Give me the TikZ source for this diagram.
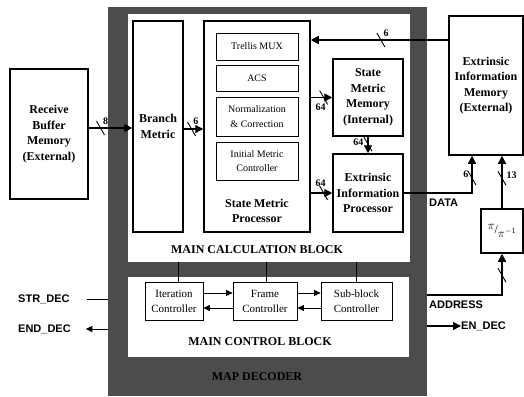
\documentclass[tikz,border=0pt]{standalone}
\usepackage{fontspec}
\setmainfont{Liberation Serif}
\setsansfont{Liberation Sans}
\usetikzlibrary{arrows.meta,positioning}
\newcommand{\busslash}[1]{\draw[line width=0.9pt] ([shift={(-4pt,7pt)}]#1) -- ([shift={(4pt,-7pt)}]#1);}

\begin{document}
\begin{tikzpicture}[x=1pt,y=-1pt,
  blk/.style={draw,line width=1.5pt,fill=white,align=center,inner sep=0pt,font=\bfseries\fontsize{12}{15.5}\selectfont},
  sub/.style={draw,line width=0.8pt,fill=white,align=center,inner sep=0pt,font=\fontsize{10}{14.5}\selectfont},
  ctl/.style={sub,font=\fontsize{11}{15}\selectfont},
  ttl/.style={font=\bfseries\fontsize{12}{14}\selectfont,inner sep=0pt},
  sig/.style={font=\sffamily\bfseries\fontsize{11}{13}\selectfont,inner sep=0pt},
  wlab/.style={font=\bfseries\fontsize{10}{10}\selectfont,inner sep=0.5pt},
  bus/.style={line width=1.4pt,-{Triangle[length=8pt,width=8pt]}},
  cbus/.style={line width=0.9pt,-{Triangle[length=6.5pt,width=6pt]}},
  wire/.style={line width=0.9pt}]
  \useasboundingbox (0,0) rectangle (524,396);
  % decoder frame and its two blocks
  \node (dec) [fill=black!70,minimum width=319pt,minimum height=389pt,inner sep=0pt] at (267.5,201.5) {};
  \node (calc) [fill=white,minimum width=282pt,minimum height=248pt,inner sep=0pt] at (269,138) {};
  \node (ctrl) [fill=white,minimum width=281pt,minimum height=80pt,inner sep=0pt] at (268.5,317) {};
  \node (dectxt) [ttl] at (257,377) {MAP DECODER};
  \node (calctxt) [ttl] at (257,250) {MAIN CALCULATION BLOCK};
  \node (ctrltxt) [ttl] at (260,342) {MAIN CONTROL BLOCK};
  % calculation blocks
  \node (rbm) [blk,minimum width=78pt,minimum height=130pt] at (49,134) {Receive\\Buffer\\Memory\\(External)};
  \node (bm) [blk,minimum width=50pt,minimum height=211pt] at (158,126.5) {Branch\\Metric};
  \node (smp) [blk,minimum width=106pt,minimum height=211pt] at (257,126.5) {};
  \node (smptxt) [ttl,align=center,font=\bfseries\fontsize{12}{15}\selectfont] at (257,210.5) {State Metric\\Processor};
  \node (tmux) [sub,minimum width=82pt,minimum height=27pt] at (257,46.5) {Trellis MUX};
  \node (acs) [sub,minimum width=82pt,minimum height=26pt] at (257,78) {ACS};
  \node (norm) [sub,minimum width=82pt,minimum height=39pt] at (257,116.5) {Normalization\\\& Correction};
  \node (imc) [sub,minimum width=82pt,minimum height=38pt] at (257,161) {Initial Metric\\Controller};
  \node (smm) [blk,minimum width=70pt,minimum height=77pt] at (368,97.5) {State\\Metric\\Memory\\(Internal)};
  \node (eip) [blk,minimum width=70pt,minimum height=78pt] at (368,193) {Extrinsic\\Information\\Processor};
  \node (eim) [blk,minimum width=74pt,minimum height=139pt] at (486,85.5) {Extrinsic\\Information\\Memory\\(External)};
  \node (pib) [blk,minimum width=42pt,minimum height=44pt,font=\fontsize{12}{12}\selectfont] at (502,231) {\raisebox{4pt}{$\pi$}/\raisebox{-4pt}{$\pi^{-1}$}};
  % control blocks
  \node (itc) [ctl,minimum width=58pt,minimum height=38pt] at (174,301) {Iteration\\Controller};
  \node (frc) [ctl,minimum width=64pt,minimum height=38pt] at (265,301) {Frame\\Controller};
  \node (sbc) [ctl,minimum width=71pt,minimum height=38pt] at (356.5,301) {Sub-block\\Controller};
  % signals
  \node (strdec) [sig,anchor=west] at (18,299) {STR\_DEC};
  \node (enddec) [sig,anchor=west] at (18,329) {END\_DEC};
  \node (endec) [sig,anchor=west] at (461,326) {EN\_DEC};
  \node (data) [sig,anchor=west] at (429,203) {DATA};
  \node (addr) [sig,anchor=west] at (429,305) {ADDRESS};
  % buses
  \draw[bus] ([yshift=6pt]rbm.east) -- ([yshift=6pt]rbm.east -| bm.west) coordinate[pos=0.27] (w1);
  \busslash{w1}
  \node (l1) [wlab,anchor=south west] at ([shift={(2pt,3pt)}]w1) {8};
  \draw[bus] ([yshift=-2.5pt]bm.east) -- ([yshift=-2.5pt]bm.east -| smp.west) coordinate[pos=0.4] (w2);
  \busslash{w2}
  \node (l2) [wlab,anchor=south west] at ([shift={(1pt,4pt)}]w2) {6};
  \draw[bus] ([yshift=45.5pt]eim.west) -- ([yshift=45.5pt]eim.west -| smp.east) coordinate[pos=0.49] (w3);
  \busslash{w3}
  \node (l3) [wlab,anchor=south west] at ([shift={(2pt,3pt)}]w3) {6};
  \draw[bus] (smm.west -| smp.east) -- (smm.west) coordinate[pos=0.6] (w4);
  \busslash{w4}
  \node (l4) [wlab,anchor=north] at ([shift={(-3pt,-6pt)}]w4) {64};
  \draw[bus] (smm.south) -- (eip.north) coordinate[pos=0.45] (w5);
  \busslash{w5}
  \node (l5) [wlab,anchor=east] at ([shift={(-4pt,2pt)}]w5) {64};
  \draw[bus] (eip.west -| smp.east) -- (eip.west) coordinate[pos=0.6] (w6);
  \busslash{w6}
  \node (l6) [wlab,anchor=south] at ([shift={(-3pt,6pt)}]w6) {64};
  \draw[bus] (eip.east) -| ([xshift=-14pt]eim.south) coordinate[pos=0.7] (w7);
  \busslash{w7}
  \node (l7) [wlab,anchor=east] at ([shift={(-3pt,4pt)}]w7) {6};
  \draw[bus] (pib.north) -- (pib.north |- eim.south) coordinate[pos=0.57] (w8);
  \busslash{w8}
  \node (l8) [wlab,anchor=west] at ([shift={(4pt,3pt)}]w8) {13};
  \draw[bus] ([yshift=-93.5pt]dec.east) -| (pib.south) coordinate[pos=0.74] (w9);
  \busslash{w9}
  \draw[bus] ([yshift=-124.5pt]dec.east) -- (endec.west);
  \draw[wire] (strdec.east -| dec.west) -- ++(-21pt,0);
  \draw[wire,-{Triangle[length=6.5pt,width=6pt]}] (enddec.east -| dec.west) -- ++(-22pt,0);
  % control links
  \draw[cbus] ([yshift=8pt]itc.east) -- ([yshift=8pt]itc.east -| frc.west);
  \draw[cbus] ([yshift=-7pt]frc.west) -- ([yshift=-7pt]frc.west -| itc.east);
  \draw[cbus] ([yshift=8pt]frc.east) -- ([yshift=8pt]frc.east -| sbc.west);
  \draw[cbus] ([yshift=-7pt]sbc.west) -- ([yshift=-7pt]sbc.west -| frc.east);
  \draw[wire] ([xshift=4pt]itc.north) -- ([xshift=4pt]itc.north |- calc.south);
  \draw[wire] ([xshift=1pt]frc.north) -- ([xshift=1pt]frc.north |- calc.south);
  \draw[wire] (sbc.north) -- (sbc.north |- calc.south);
\end{tikzpicture}
\end{document}
